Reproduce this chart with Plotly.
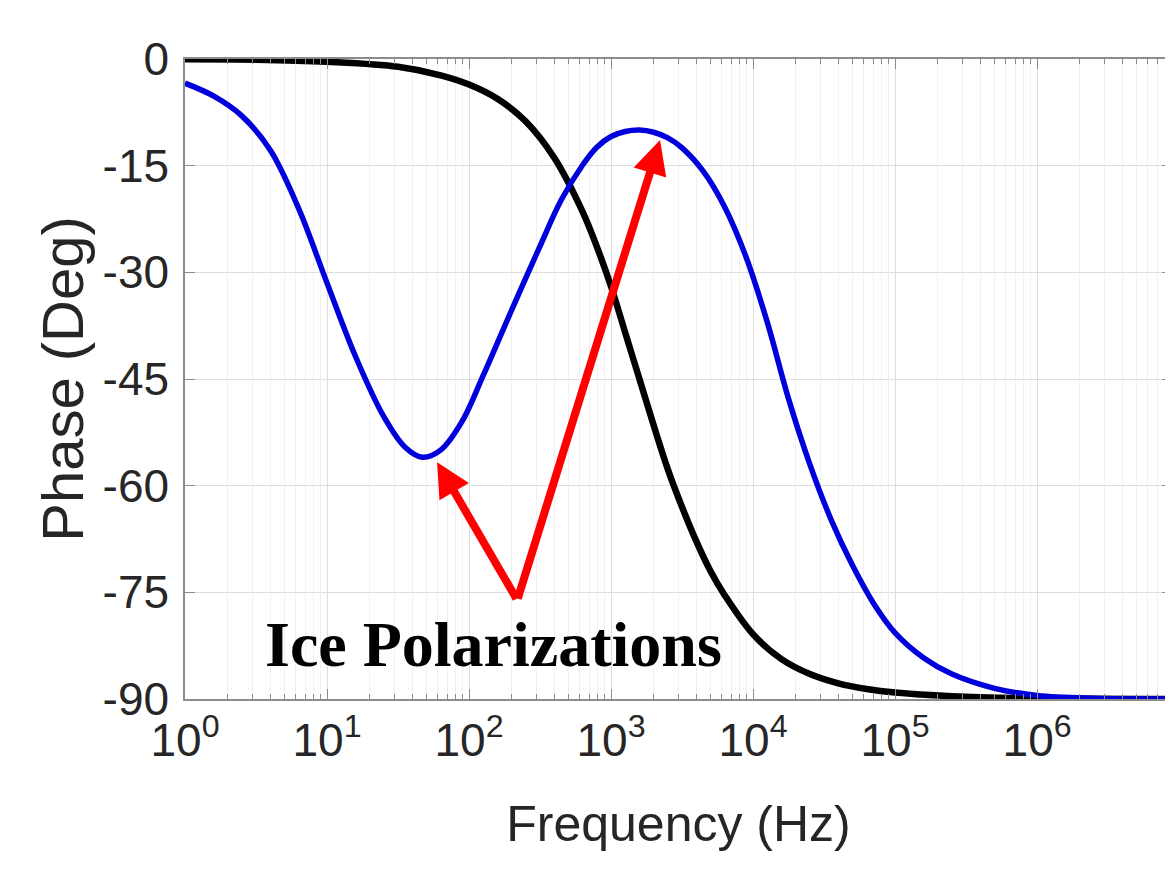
import numpy as np
import plotly.graph_objects as go

# ---- data (log10 of frequency in Hz, phase in degrees)
black_logf = [0.0, 0.5, 1.0, 1.5, 1.8, 2.0, 2.2, 2.4, 2.6, 2.8, 2.9, 3.0, 3.1, 3.2, 3.3, 3.4,
              3.5, 3.6, 3.7, 3.8, 4.0, 4.2, 4.4, 4.6, 4.8, 5.0, 5.4, 6.0, 6.95]
black_phase = [-0.04, -0.1, -0.4, -1.1, -2.3, -3.6, -5.6, -8.8, -13.9, -21.5, -26.4, -32.0, -38.5, -45.0,
               -51.5, -57.7, -63.0, -67.8, -72.0, -75.4, -80.9, -84.4, -86.5, -87.8, -88.6, -89.1,
               -89.6, -89.9, -90.0]

blue_logf = [0.0, 0.2, 0.4, 0.6, 0.8, 1.0, 1.2, 1.4, 1.55, 1.67, 1.8, 1.95, 2.1, 2.3, 2.5, 2.65,
             2.8, 2.9, 3.0, 3.1, 3.2, 3.3, 3.4, 3.5, 3.65, 3.8, 3.95, 4.1, 4.25, 4.4, 4.55, 4.7, 4.85,
             5.0, 5.2, 5.4, 5.7, 6.0, 6.4, 6.95]
blue_phase = [-3.4, -5.2, -8.0, -12.8, -21.0, -31.5, -41.8, -50.3, -54.6, -56.0, -55.0, -51.0, -44.5,
              -35.3, -26.3, -19.8, -14.9, -12.4, -10.9, -10.2, -10.0, -10.3, -11.1, -12.5, -15.8, -20.8,
              -27.8, -37.0, -47.8, -57.0, -64.8, -71.2, -76.6, -80.7, -84.2, -86.5, -88.5, -89.5,
              -89.9, -90.0]

ytick_vals = [0, -15, -30, -45, -60, -75, -90]
xtick_exps = [0, 1, 2, 3, 4, 5, 6]
xtick_text = ["10<sup>%d</sup>" % e for e in xtick_exps]

annot_label = "Ice Polarizations"
annot_pos = (2.17, -82.3)           # (log10 f, phase)
arrow_tail = (2.34, -76.1)
arrow_tips = [(1.775, -56.7), (3.345, -11.4)]

black_f = [10 ** v for v in black_logf]
blue_f = [10 ** v for v in blue_logf]

fig = go.Figure()
fig.add_trace(go.Scatter(x=black_f, y=black_phase, mode="lines",
                         line=dict(color="#000000", width=6.5, shape="spline", smoothing=1.0),
                         showlegend=False))
fig.add_trace(go.Scatter(x=blue_f, y=blue_phase, mode="lines",
                         line=dict(color="#0000dc", width=5.5, shape="spline", smoothing=1.0),
                         showlegend=False))

for tip in arrow_tips:
    fig.add_annotation(x=tip[0], y=tip[1], ax=arrow_tail[0], ay=arrow_tail[1],
                       xref="x", yref="y", axref="x", ayref="y", text="",
                       showarrow=True, arrowhead=2, arrowsize=0.85, arrowwidth=8,
                       arrowcolor="#ff0000")

fig.add_annotation(x=annot_pos[0], y=annot_pos[1], xref="x", yref="y", text="<b>%s</b>" % annot_label,
                   showarrow=False, xanchor="center", yanchor="middle",
                   font=dict(family="Liberation Serif, Times New Roman, serif", size=64, color="#000000"))

axis_font = dict(family="Liberation Sans, Arial, sans-serif", color="#262626")

# page body adds an 8px offset, so the figure is sized to fit inside the window
fig.update_layout(
    width=1165, height=875,
    margin=dict(l=177, r=1, t=51, b=184, autoexpand=False),
    paper_bgcolor="white", plot_bgcolor="white",
    xaxis=dict(
        type="log", range=[0, 6.95], automargin=False,
        tickvals=[10 ** e for e in xtick_exps], ticktext=xtick_text,
        tickfont=dict(size=46, **axis_font),
        ticks="inside", ticklen=10, tickcolor="#8c8c8c", tickwidth=1,
        showline=True, linecolor="#8c8c8c", linewidth=1.5, mirror="ticks",
        showgrid=True, gridcolor="#dedede", gridwidth=1,
        minor=dict(dtick="D1", ticks="inside", ticklen=5, tickcolor="#8c8c8c",
                   showgrid=True, gridcolor="#f1f1f1", gridwidth=1),
        zeroline=False,
        title=dict(text="Frequency (Hz)", font=dict(size=50, **axis_font), standoff=41),
    ),
    yaxis=dict(
        range=[-90, 0], automargin=False,
        tickvals=ytick_vals, ticktext=[str(v) for v in ytick_vals],
        tickfont=dict(size=46, **axis_font), ticklabelstandoff=5,
        ticks="inside", ticklen=10, tickcolor="#8c8c8c", tickwidth=1,
        showline=True, linecolor="#8c8c8c", linewidth=1.5, mirror="ticks",
        showgrid=True, gridcolor="#dedede", gridwidth=1,
        zeroline=False,
        title=dict(text="Phase (Deg)", font=dict(size=58, **axis_font), standoff=0),
    ),
)

fig.write_html("out.html")
